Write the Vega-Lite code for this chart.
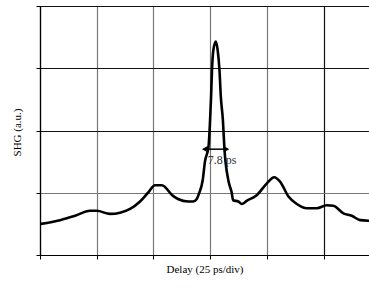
{
  "$schema": "https://vega.github.io/schema/vega-lite/v6.json",
  "width": 329,
  "height": 249,
  "autosize": "none",
  "padding": {"left": 40, "top": 6, "right": 0, "bottom": 33},
  "background": "white",
  "config": {
    "view": {"stroke": null},
    "font": "Liberation Serif"
  },
  "datasets": {
    "curve": [
      {"delay": 0.4, "shg": 0.5},
      {"delay": 8.8, "shg": 0.56},
      {"delay": 15.5, "shg": 0.63},
      {"delay": 22.0, "shg": 0.71},
      {"delay": 25.0, "shg": 0.71},
      {"delay": 30.9, "shg": 0.66},
      {"delay": 35.3, "shg": 0.68},
      {"delay": 39.7, "shg": 0.74},
      {"delay": 44.1, "shg": 0.86},
      {"delay": 47.6, "shg": 1.0},
      {"delay": 50.7, "shg": 1.12},
      {"delay": 53.7, "shg": 1.12},
      {"delay": 58.6, "shg": 0.95},
      {"delay": 60.8, "shg": 0.9},
      {"delay": 65.3, "shg": 0.86},
      {"delay": 67.5, "shg": 0.86},
      {"delay": 69.1, "shg": 0.9},
      {"delay": 70.0, "shg": 0.98},
      {"delay": 71.7, "shg": 1.2},
      {"delay": 72.7, "shg": 1.5},
      {"delay": 74.3, "shg": 1.75},
      {"delay": 74.9, "shg": 2.12},
      {"delay": 75.4, "shg": 2.54},
      {"delay": 75.8, "shg": 2.97},
      {"delay": 76.4, "shg": 3.29},
      {"delay": 77.5, "shg": 3.43},
      {"delay": 78.3, "shg": 3.29},
      {"delay": 79.1, "shg": 2.97},
      {"delay": 79.7, "shg": 2.54},
      {"delay": 80.6, "shg": 2.17},
      {"delay": 81.3, "shg": 1.7},
      {"delay": 83.0, "shg": 1.2},
      {"delay": 84.5, "shg": 1.0},
      {"delay": 85.1, "shg": 0.88},
      {"delay": 87.4, "shg": 0.86},
      {"delay": 88.9, "shg": 0.82},
      {"delay": 91.1, "shg": 0.87},
      {"delay": 95.5, "shg": 0.96},
      {"delay": 100.0, "shg": 1.15},
      {"delay": 103.2, "shg": 1.25},
      {"delay": 105.8, "shg": 1.18},
      {"delay": 109.5, "shg": 0.94},
      {"delay": 113.2, "shg": 0.82},
      {"delay": 117.6, "shg": 0.75},
      {"delay": 122.0, "shg": 0.75},
      {"delay": 126.4, "shg": 0.8},
      {"delay": 129.3, "shg": 0.79},
      {"delay": 133.7, "shg": 0.67},
      {"delay": 137.4, "shg": 0.63},
      {"delay": 141.1, "shg": 0.56},
      {"delay": 144.7, "shg": 0.55}
    ],
    "arrow": [{"x1": 72.0, "x2": 82.8, "y": 1.7}],
    "heads": [
      {"x": 72.6, "y": 1.7, "shape": "triangle-left"},
      {"x": 82.2, "y": 1.7, "shape": "triangle-right"}
    ],
    "label": [{"x": 80.2, "y": 1.53, "text": "7.8 ps"}]
  },
  "layer": [
    {
      "data": {"name": "curve"},
      "mark": {"type": "line", "color": "black", "strokeWidth": 2.6, "strokeJoin": "round", "strokeCap": "round", "interpolate": "monotone", "clip": true},
      "encoding": {
        "x": {
          "field": "delay", "type": "quantitative",
          "scale": {"domain": [0, 145], "nice": false, "zero": false},
          "axis": {
            "title": "Delay (25 ps/div)",
            "values": [0, 25, 50, 75, 100, 125],
            "labels": false,
            "ticks": true, "tickSize": 4, "tickColor": "black", "tickWidth": 1,
            "domain": true, "domainColor": "black", "domainWidth": 1.2,
            "grid": true,
            "gridColor": {"condition": {"test": "datum.value === 125 || datum.value === 0", "value": "#111111"}, "value": "#777777"},
            "gridWidth": 1.2,
            "titleFont": "Liberation Serif", "titleFontSize": 11, "titleFontWeight": "normal", "titleColor": "black",
            "titleBaseline": "middle", "titleY": 14
          }
        },
        "y": {
          "field": "shg", "type": "quantitative",
          "scale": {"domain": [0, 4], "nice": false},
          "axis": {
            "title": "SHG (a.u.)",
            "values": [0, 1, 2, 3, 4],
            "labels": false,
            "ticks": true, "tickSize": 4, "tickColor": "black", "tickWidth": 1,
            "domain": true, "domainColor": "black", "domainWidth": 1.2,
            "grid": true,
            "gridColor": {"condition": {"test": "datum.value === 1", "value": "#777777"}, "value": "#111111"},
            "gridWidth": 1.2,
            "titleFont": "Liberation Serif", "titleFontSize": 11, "titleFontWeight": "normal", "titleColor": "black",
            "titleAngle": -90, "titleAlign": "center", "titleBaseline": "middle",
            "titleX": -23, "titleY": 126
          }
        }
      }
    },
    {
      "data": {"name": "arrow"},
      "mark": {"type": "rule", "color": "black", "strokeWidth": 1.5},
      "encoding": {
        "x": {"field": "x1", "type": "quantitative"},
        "x2": {"field": "x2"},
        "y": {"field": "y", "type": "quantitative"}
      }
    },
    {
      "data": {"name": "heads"},
      "mark": {"type": "point", "filled": true, "color": "black", "opacity": 1, "size": 40},
      "encoding": {
        "x": {"field": "x", "type": "quantitative"},
        "y": {"field": "y", "type": "quantitative"},
        "shape": {"field": "shape", "type": "nominal", "scale": null, "legend": null}
      }
    },
    {
      "data": {"name": "label"},
      "mark": {"type": "text", "font": "Liberation Serif", "fontSize": 12, "color": "#333333", "align": "center", "baseline": "middle"},
      "encoding": {
        "x": {"field": "x", "type": "quantitative"},
        "y": {"field": "y", "type": "quantitative"},
        "text": {"field": "text"}
      }
    }
  ]
}
